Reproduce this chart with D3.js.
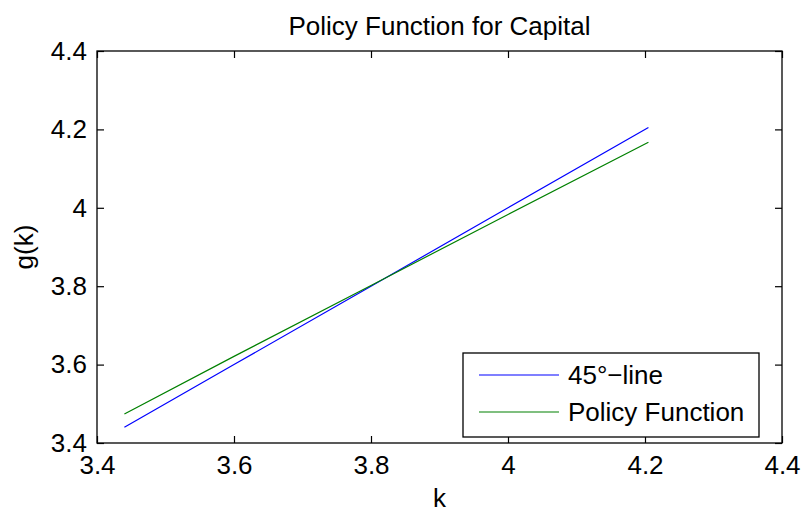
<!DOCTYPE html>
<html>
<head>
<meta charset="utf-8">
<script src="https://cdn.jsdelivr.net/npm/d3@7"></script>
<style>
  body { margin: 0; background: #fff; }
  text { font-family: "Liberation Sans", Arial, sans-serif; fill: #000; }
</style>
</head>
<body>
<svg id="chart"></svg>
<script>
// data
var kValues = [3.44, 3.6, 3.8, 4.0, 4.205];
var lineValues = [3.44, 3.6, 3.8, 4.0, 4.205];        // 45 degree line
var policyValues = [3.474, 3.621, 3.802, 3.983, 4.167]; // policy function g(k)
var xTicks = [3.4, 3.6, 3.8, 4, 4.2, 4.4];
var yTicks = [3.4, 3.6, 3.8, 4, 4.2, 4.4];
var seriesNames = ["45\u00b0\u2212line", "Policy Function"];
var seriesColors = ["#0000ff", "#008000"];

var fontSize = "26px";
var margin = { top: 51, right: 27, bottom: 73, left: 97 },
    width = 809 - margin.left - margin.right,
    height = 516 - margin.top - margin.bottom;

var xScale = d3.scaleLinear().domain([3.4, 4.4]).range([0, width]);
var yScale = d3.scaleLinear().domain([3.4, 4.4]).range([height, 0]);

var svg = d3.select("#chart")
    .attr("width", 809)
    .attr("height", 516)
    .append("g")
    .attr("transform", "translate(" + margin.left + "," + margin.top + ")");

// axes, ticks pointing inward like matlab
var tickLen = 7;
svg.append("g")
    .attr("transform", "translate(0," + height + ")")
    .call(d3.axisBottom(xScale).tickValues(xTicks).tickSizeInner(-tickLen).tickSizeOuter(0).tickPadding(13).tickFormat(d3.format("")));
svg.append("g")
    .call(d3.axisTop(xScale).tickValues(xTicks).tickSizeInner(-tickLen).tickSizeOuter(0).tickFormat(""));
svg.append("g")
    .call(d3.axisLeft(yScale).tickValues(yTicks).tickSizeInner(-tickLen).tickSizeOuter(0).tickPadding(10).tickFormat(d3.format("")));
svg.append("g")
    .attr("transform", "translate(" + width + ",0)")
    .call(d3.axisRight(yScale).tickValues(yTicks).tickSizeInner(-tickLen).tickSizeOuter(0).tickFormat(""));

svg.selectAll(".domain").remove();
svg.selectAll(".tick line").attr("stroke", "#000").attr("stroke-width", 1.2);
svg.selectAll(".tick text")
    .attr("font-size", fontSize)
    .attr("font-family", "Liberation Sans, Arial, sans-serif")
    .attr("fill", "#000");

svg.append("rect")
    .attr("width", width)
    .attr("height", height)
    .attr("fill", "none")
    .attr("stroke", "#000")
    .attr("stroke-width", 1.3);

var line = d3.line()
    .x(function (d) { return xScale(d[0]); })
    .y(function (d) { return yScale(d[1]); });

var series = [d3.zip(kValues, lineValues), d3.zip(kValues, policyValues)];
series.forEach(function (s, i) {
    svg.append("path")
        .datum(s)
        .attr("fill", "none")
        .attr("stroke", seriesColors[i])
        .attr("stroke-width", 1.2)
        .attr("d", line);
});

// title and labels
svg.append("text")
    .attr("text-anchor", "middle")
    .attr("x", width / 2)
    .attr("y", -16)
    .attr("font-size", fontSize)
    .text("Policy Function for Capital");

svg.append("text")
    .attr("text-anchor", "middle")
    .attr("x", width / 2)
    .attr("y", height + 64)
    .attr("font-size", fontSize)
    .text("k");

svg.append("text")
    .attr("text-anchor", "middle")
    .attr("transform", "rotate(-90)")
    .attr("x", -height / 2)
    .attr("y", -64)
    .attr("font-size", fontSize)
    .text("g(k)");

// legend
var legend = svg.append("g")
    .attr("transform", "translate(" + (463 - margin.left) + "," + (353 - margin.top) + ")");
legend.append("rect")
    .attr("width", 296)
    .attr("height", 84)
    .attr("fill", "#fff")
    .attr("stroke", "#000")
    .attr("stroke-width", 1.3);
seriesNames.forEach(function (name, i) {
    var y = 22 + i * 37;
    legend.append("line")
        .attr("x1", 16).attr("x2", 96)
        .attr("y1", y).attr("y2", y)
        .attr("stroke", seriesColors[i])
        .attr("stroke-width", 1.2);
    legend.append("text")
        .attr("x", 105)
        .attr("y", y + 9)
        .attr("font-size", fontSize)
        .text(name);
});
</script>
</body>
</html>
